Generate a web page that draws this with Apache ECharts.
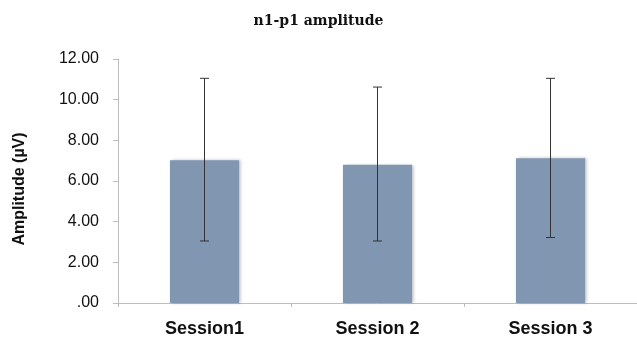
<!DOCTYPE html>
<html>
<head>
<meta charset="utf-8">
<script src="https://cdn.jsdelivr.net/npm/echarts@6/dist/echarts.min.js"></script>
<style>
html,body{margin:0;padding:0;background:#fff}
#chart{width:637px;height:343px}
</style>
</head>
<body>
<div id="chart"></div>
<script>
// data
var categories = ['Session1', 'Session 2', 'Session 3'];
var means = [7.02, 6.80, 7.12];
var errLow = [3.05, 3.05, 3.22];
var errHigh = [11.05, 10.62, 11.05];
var yTicks = [0, 2, 4, 6, 8, 10, 12];

var chart = echarts.init(document.getElementById('chart'));

function fmtTick(v) {
    // excel style: zero shows as ".00"
    return v === 0 ? '.00' : v.toFixed(2);
}

var errData = [];
for (var i = 0; i < categories.length; ++i) {
    errData.push([i, errLow[i], errHigh[i]]);
}

var option = {
    animation: false,
    title: {
        text: 'n1-p1 amplitude',
        left: 'center',
        top: 9,
        textStyle: {fontFamily: 'DejaVu Serif', fontWeight: 'bold', fontSize: 14, color: '#111'}
    },
    grid: {left: 118, right: -5, top: 59, bottom: 40},
    xAxis: {
        type: 'category',
        data: categories,
        axisLine: {lineStyle: {color: '#bcbcbc'}},
        axisTick: {show: true, length: 4, lineStyle: {color: '#bcbcbc'}},
        axisLabel: {
            margin: 17,
            fontFamily: 'Liberation Sans', fontWeight: 'bold', fontSize: 18, color: '#111'
        }
    },
    yAxis: {
        type: 'value',
        min: yTicks[0],
        max: yTicks[yTicks.length - 1],
        interval: 2,
        name: 'Amplitude (µV)',
        nameLocation: 'middle',
        nameGap: 90,
        nameTextStyle: {
            fontFamily: 'Liberation Sans', fontWeight: 'bold', fontSize: 16, color: '#111',
            padding: [0, 0, 0, -16]
        },
        splitLine: {show: false},
        axisLine: {show: true, lineStyle: {color: '#bcbcbc'}},
        axisTick: {show: true, length: 5, lineStyle: {color: '#bcbcbc'}},
        axisLabel: {
            margin: 19,
            formatter: fmtTick,
            fontFamily: 'Liberation Sans', fontSize: 16, color: '#111'
        }
    },
    series: [{
        type: 'bar',
        data: means,
        barWidth: '40%',
        itemStyle: {
            color: '#8096b1',
            shadowColor: 'rgba(0,0,0,0.25)',
            shadowBlur: 3,
            shadowOffsetX: 2
        }
    }, {
        type: 'custom',
        data: errData,
        z: 10,
        renderItem: function (params, api) {
            var x = api.value(0);
            var lo = api.coord([x, api.value(1)]);
            var hi = api.coord([x, api.value(2)]);
            var cap = 4.5;
            var st = {stroke: '#333', lineWidth: 1};
            return {
                type: 'group',
                children: [
                    {type: 'line', shape: {x1: lo[0], y1: lo[1], x2: hi[0], y2: hi[1]}, style: st},
                    {type: 'line', shape: {x1: lo[0] - cap, y1: lo[1], x2: lo[0] + cap, y2: lo[1]}, style: st},
                    {type: 'line', shape: {x1: hi[0] - cap, y1: hi[1], x2: hi[0] + cap, y2: hi[1]}, style: st}
                ]
            };
        }
    }]
};

chart.setOption(option);
</script>
</body>
</html>
